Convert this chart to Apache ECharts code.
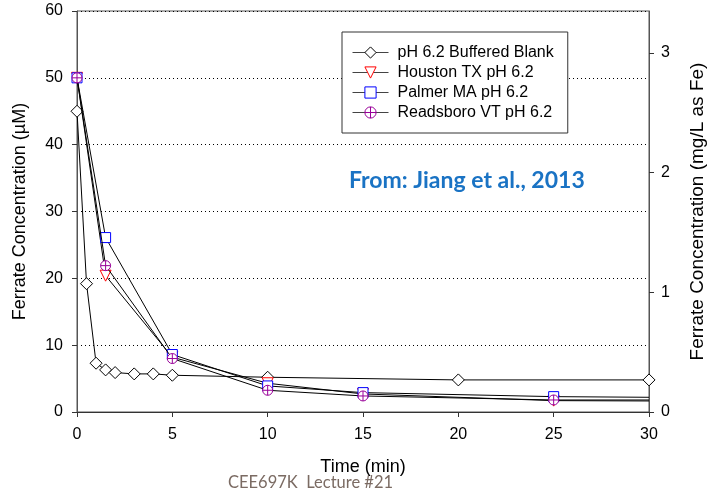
<!DOCTYPE html>
<html>
<head>
<meta charset="utf-8">
<script src="https://cdn.jsdelivr.net/npm/echarts@6/dist/echarts.min.js"></script>
<style>
  html, body { margin: 0; padding: 0; background: #fff; }
  #chart { width: 710px; height: 494px; }
</style>
</head>
<body>
<div id="chart"></div>
<script>
// Ferrate decay in buffered blank and three natural waters (pH 6.2)
const seriesNames = [
  'pH 6.2 Buffered Blank',
  'Houston TX pH 6.2',
  'Palmer MA pH 6.2',
  'Readsboro VT pH 6.2'
];

const blankTime = [0, 0.5, 1, 1.5, 2, 3, 4, 5, 10, 20, 30];
const blankConc = [45, 19.2, 7.3, 6.3, 5.9, 5.7, 5.7, 5.5, 5.2, 4.8, 4.8];

const waterTime = [0, 1.5, 5, 10, 15, 25, 30];
const houstonConc = [50, 20.4, 8.2, 4.3, 2.7, 1.7, 1.65];
const palmerConc = [50, 26.1, 8.6, 3.9, 2.9, 2.3, 2.2];
const readsboroConc = [50, 21.9, 8.0, 3.25, 2.4, 1.8, 1.8];

const xTicks = [0, 5, 10, 15, 20, 25, 30];
const leftTicks = [0, 10, 20, 30, 40, 50, 60];
const rightTicks = [0, 1, 2, 3];

// 1 µM Fe = 0.055845 mg/L
const FE_MG_PER_UMOL = 0.055845;

const FONT = '"Liberation Sans", Arial, sans-serif';

// last sample of each natural water is drawn without a marker
function pairs(times, values, hideLast) {
  return times.map((t, i) => {
    if (hideLast && i === times.length - 1) {
      return { value: [t, values[i]], symbol: 'none' };
    }
    return [t, values[i]];
  });
}

const crossCircle = 'path://M0,-10 A10,10 0 1,1 0,10 A10,10 0 1,1 0,-10 Z M-10,0 L10,0 M0,-10 L0,10';

const chart = echarts.init(document.getElementById('chart'), null, { renderer: 'canvas' });

const lineStyle = { color: '#000', width: 1 };

chart.setOption({
  animation: false,
  backgroundColor: '#fff',
  grid: {
    left: 77, right: 61, top: 11, bottom: 82,
    outerBoundsMode: 'none', containLabel: false,
    show: true, borderColor: '#555', borderWidth: 1
  },
  legend: {
    orient: 'vertical',
    left: 342, top: 32,
    data: seriesNames,
    itemWidth: 36, itemHeight: 14, itemGap: 3,
    padding: [12, 14, 12, 10],
    backgroundColor: '#fff',
    borderColor: '#333', borderWidth: 1,
    lineStyle: { width: 1, color: '#444' },
    itemStyle: { borderWidth: 1 },
    textStyle: { fontFamily: FONT, fontSize: 16, lineHeight: 17, color: '#000', padding: [0, 0, 0, 4] }
  },
  xAxis: {
    type: 'value', min: 0, max: 30, interval: 5,
    name: 'Time (min)', nameLocation: 'middle', nameGap: 46,
    nameTextStyle: { fontFamily: FONT, fontSize: 18, color: '#000' },
    axisLine: { show: true, lineStyle: { color: '#333' } },
    axisTick: { show: true, inside: false, length: 5, lineStyle: { color: '#333' } },
    axisLabel: { fontFamily: FONT, fontSize: 16, color: '#000', margin: 15,
      customValues: xTicks },
    splitLine: { show: false }
  },
  yAxis: [
    {
      type: 'value', min: 0, max: 60, interval: 10, position: 'left',
      name: 'Ferrate Concentration (\u00b5M)', nameLocation: 'middle', nameGap: 48,
      nameTextStyle: { fontFamily: FONT, fontSize: 18, color: '#000' },
      axisLine: { show: true, lineStyle: { color: '#555' } },
      axisTick: { show: true, inside: false, length: 5, lineStyle: { color: '#333' } },
      axisLabel: { fontFamily: FONT, fontSize: 16, color: '#000', margin: 14,
        customValues: leftTicks },
      splitLine: { show: true, lineStyle: { color: '#000', type: [1, 3], width: 1 } }
    },
    {
      type: 'value', min: 0, max: 60 * FE_MG_PER_UMOL, position: 'right',
      name: 'Ferrate Concentration (mg/L as Fe)', nameLocation: 'middle', nameGap: 39,
      nameTextStyle: { fontFamily: FONT, fontSize: 19, color: '#000' },
      axisLine: { show: true, lineStyle: { color: '#555' } },
      axisTick: { show: true, inside: false, length: 5, lineStyle: { color: '#333' },
        customValues: rightTicks },
      axisLabel: { fontFamily: FONT, fontSize: 16, color: '#000', margin: 12,
        customValues: rightTicks },
      splitLine: { show: false }
    }
  ],
  series: [
    {
      name: seriesNames[0], type: 'line', data: pairs(blankTime, blankConc, false),
      symbol: 'diamond', symbolSize: 12,
      itemStyle: { color: '#fff', borderColor: '#000', borderWidth: 1 },
      lineStyle: lineStyle, z: 2
    },
    {
      name: seriesNames[1], type: 'line', data: pairs(waterTime, houstonConc, true),
      symbol: 'triangle', symbolRotate: 180, symbolSize: 11,
      itemStyle: { color: '#fff', borderColor: '#ff0000', borderWidth: 1 },
      lineStyle: lineStyle, z: 3
    },
    {
      name: seriesNames[2], type: 'line', data: pairs(waterTime, palmerConc, true),
      symbol: 'rect', symbolSize: 10,
      itemStyle: { color: '#fff', borderColor: '#0000ff', borderWidth: 1 },
      lineStyle: lineStyle, z: 4
    },
    {
      name: seriesNames[3], type: 'line', data: pairs(waterTime, readsboroConc, true),
      symbol: crossCircle, symbolSize: 10,
      itemStyle: { color: '#fff', borderColor: '#990099', borderWidth: 1 },
      lineStyle: lineStyle, z: 5
    }
  ],
  graphic: [
    {
      type: 'text', left: 349, top: 169,
      style: { text: 'From: Jiang et al., 2013', fill: '#1a73c4',
        font: 'bold 23px Lato, "Open Sans", sans-serif' }
    },
    {
      type: 'text', left: 228, top: 474,
      style: { text: 'CEE697K  Lecture #21', fill: '#7b6b63',
        font: '16.5px Lato, "Open Sans", sans-serif' }
    }
  ]
});
</script>
</body>
</html>
